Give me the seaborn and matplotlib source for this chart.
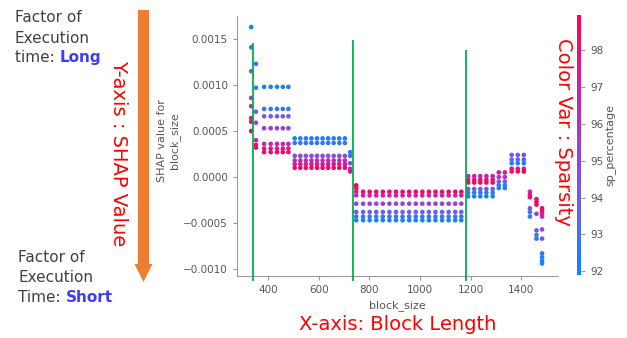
import numpy as np
import pandas as pd
import matplotlib
matplotlib.use('Agg')
import matplotlib.pyplot as plt
import seaborn as sns
from matplotlib.colors import LinearSegmentedColormap, Normalize
from matplotlib.cm import ScalarMappable
from matplotlib.patches import FancyArrow
from matplotlib.ticker import FuncFormatter

# --- data (block_size vs SHAP value, coloured by sp_percentage) ---
# each group: block sizes sharing the same stack of (shap, sp) levels
a1_block = [333]
a1_shap = [0.00163, 0.00141, 0.00115, 0.00086, 0.00077, 0.00064, 0.00060, 0.00050]
a1_sp = [92.2, 92.4, 94.0, 95.6, 96.4, 97.6, 98.1, 98.8]

a2_block = [352]
a2_shap = [0.00123, 0.00097, 0.00071, 0.00059, 0.00040, 0.00035, 0.00032]
a2_sp = [92.5, 92.6, 93.8, 95.2, 96.8, 97.8, 98.5]

b_block = [384, 410, 435, 458, 480]
b_shap = [0.00098, 0.00074, 0.00066, 0.00053, 0.00036, 0.00031, 0.00027]
b_sp = [92.2, 92.8, 93.9, 95.3, 96.7, 97.7, 98.5]

c_block = [505, 527, 549, 571, 593, 615, 637, 659, 681, 703]
c_shap = [0.00042, 0.00037, 0.00023, 0.00018, 0.00014, 0.00010]
c_sp = [92.3, 92.8, 94.8, 96.3, 97.5, 98.5]

c2_block = [724]
c2_shap = [0.00027, 0.00023, 0.00015, 0.00009, 0.00006]
c2_sp = [92.4, 93.0, 94.6, 96.6, 97.8]

d0_block = [748]
d0_shap = [-0.00009, -0.00012, -0.00016, -0.00020, -0.00029, -0.00038, -0.00043, -0.00047]
d0_sp = [98.8, 98.2, 97.3, 96.4, 95.2, 93.8, 92.9, 92.3]

d_block = [775, 801, 827, 853, 879, 905, 931, 957, 983, 1009, 1035, 1061, 1087, 1113, 1139, 1163]
d_shap = [-0.00016, -0.00020, -0.00029, -0.00038, -0.00043, -0.00047]
d_sp = [98.4, 97.1, 95.3, 93.8, 92.9, 92.3]

e1_block = [1190, 1214, 1238, 1262, 1287]
e1_shap = [0.00001, -0.00003, -0.00006, -0.00013, -0.00017, -0.00021]
e1_sp = [96.8, 97.8, 98.6, 93.6, 92.8, 92.2]

e2_block = [1311, 1335]
e2_shap = [0.00005, 0.00000, -0.00005, -0.00009, -0.00012]
e2_sp = [97.6, 96.0, 94.0, 93.0, 92.3]

e3_block = [1362, 1386, 1410]
e3_shap = [0.00024, 0.00019, 0.00015, 0.00009, 0.00006]
e3_sp = [94.3, 93.2, 92.5, 97.9, 98.7]

f1_block = [1434]
f1_shap = [-0.00016, -0.00019, -0.00022, -0.00034, -0.00038, -0.00043]
f1_sp = [96.8, 97.6, 98.2, 94.4, 93.0, 92.4]

f2_block = [1460]
f2_shap = [-0.00024, -0.00027, -0.00030, -0.00040, -0.00058, -0.00063, -0.00067]
f2_sp = [97.9, 98.4, 98.8, 95.2, 94.0, 93.0, 92.4]

f3_block = [1482]
f3_shap = [-0.00034, -0.00037, -0.00040, -0.00043, -0.00057, -0.00067, -0.00083, -0.00087, -0.00091, -0.00094]
f3_sp = [98.8, 98.2, 97.6, 96.6, 95.5, 95.0, 92.6, 92.4, 92.2, 92.1]

# green divider lines drawn on the slide (block_size, top shap value)
divider_x = [341, 735, 1180]
divider_top = [0.001457, 0.001489, 0.00138]

sp_ticks = [92, 93, 94, 95, 96, 97, 98]


def expand(blocks, shaps, sps):
    rows = []
    for b in blocks:
        for s, c in zip(shaps, sps):
            rows.append({'block_size': b, 'shap': s, 'sp': c})
    return rows


rows = []
for grp in [(a1_block, a1_shap, a1_sp), (a2_block, a2_shap, a2_sp),
            (b_block, b_shap, b_sp), (c_block, c_shap, c_sp),
            (c2_block, c2_shap, c2_sp), (d0_block, d0_shap, d0_sp),
            (d_block, d_shap, d_sp), (e1_block, e1_shap, e1_sp),
            (e2_block, e2_shap, e2_sp), (e3_block, e3_shap, e3_sp),
            (f1_block, f1_shap, f1_sp), (f2_block, f2_shap, f2_sp),
            (f3_block, f3_shap, f3_sp)]:
    rows += expand(*grp)
df = pd.DataFrame(rows)

shap_cmap = LinearSegmentedColormap.from_list(
    'shap_red_blue', ['#008bfb', '#6a5ff0', '#9a3fd8', '#d21e9c', '#ff0051'])
norm = Normalize(91.9, 98.95)

sns.set_style('white')
plt.rcParams['font.family'] = ['DejaVu Sans']

W, H = 627, 338
fig = plt.figure(figsize=(W / 100, H / 100), dpi=100)
ax = fig.add_axes([237 / W, 1 - 276 / H, 321 / W, 260 / H])

sns.scatterplot(data=df, x='block_size', y='shap', hue='sp', palette=shap_cmap,
                hue_norm=norm, s=11, linewidth=0, legend=False, ax=ax, zorder=3)

ax.set_xlim(277, 1545)
ax.set_ylim(-0.001076, 0.00175)
ax.set_xticks([400, 600, 800, 1000, 1200, 1400])
ax.set_yticks([-0.001, -0.0005, 0, 0.0005, 0.001, 0.0015])
ax.yaxis.set_major_formatter(FuncFormatter(lambda v, p: f"{v:.4f}".replace('-', '\u2212')))
for sp in ['top', 'right']:
    ax.spines[sp].set_visible(False)
for sp in ['left', 'bottom']:
    ax.spines[sp].set_color('#9a9a9a')
ax.tick_params(labelsize=7.5, colors='#9a9a9a', labelcolor='#555555', length=3, width=0.8,
               left=True, bottom=True)
ax.set_xlabel('block_size', fontsize=8, color='#555555')
ax.set_ylabel('SHAP value for\nblock_size', fontsize=8, color='#555555')
ax.yaxis.set_label_coords(-0.178, 0.52)

ax.vlines(divider_x, -0.00113, divider_top, colors='#00b050', lw=1.3, clip_on=False, zorder=4)

cax = fig.add_axes([577 / W, 1 - 275 / H, 4 / W, 260 / H])
cb = fig.colorbar(ScalarMappable(norm=norm, cmap=shap_cmap), cax=cax)
cb.outline.set_visible(False)
cb.set_ticks(sp_ticks)
cax.tick_params(labelsize=7.5, colors='#9a9a9a', labelcolor='#555555', length=3, width=0.8)
cb.set_label('sp_percentage', fontsize=8, color='#555555', labelpad=2)

# slide annotations in pixel coordinates
ov = fig.add_axes([0, 0, 1, 1], facecolor='none', zorder=5)
ov.set_xlim(0, W)
ov.set_ylim(H, 0)
ov.axis('off')

gray = '#404040'
blue = '#3c3cff'
fs_side = 11
ov.text(15, 22, 'Factor of', fontsize=fs_side, color=gray, va='baseline')
ov.text(15, 43, 'Execution', fontsize=fs_side, color=gray, va='baseline')
t_long = ov.text(15, 62, 'time: ', fontsize=fs_side, color=gray, va='baseline')
ov.annotate('Long', xy=(1, 0), xycoords=t_long, va='bottom', ha='left',
            fontsize=fs_side, color=blue, weight='bold')
ov.text(18, 262, 'Factor of', fontsize=fs_side, color=gray, va='baseline')
ov.text(18, 282, 'Execution', fontsize=fs_side, color=gray, va='baseline')
t_short = ov.text(18, 302, 'Time: ', fontsize=fs_side, color=gray, va='baseline')
ov.annotate('Short', xy=(1, 0), xycoords=t_short, va='bottom', ha='left',
            fontsize=fs_side, color=blue, weight='bold')

ov.add_patch(FancyArrow(143.5, 10, 0, 272, width=11, head_width=18, head_length=18,
                        length_includes_head=True, color='#ed7d31', lw=0))

ov.text(119, 153, 'Y-axis : SHAP Value', rotation=-90, color='red', fontsize=14,
        ha='center', va='center')
ov.text(563, 132, 'Color Var : Sparsity', rotation=-90, color='red', fontsize=14,
        ha='center', va='center')
ov.text(398, 324, 'X-axis: Block Length', color='red', fontsize=14,
        ha='center', va='center')

fig.savefig('out.png', dpi=100)
